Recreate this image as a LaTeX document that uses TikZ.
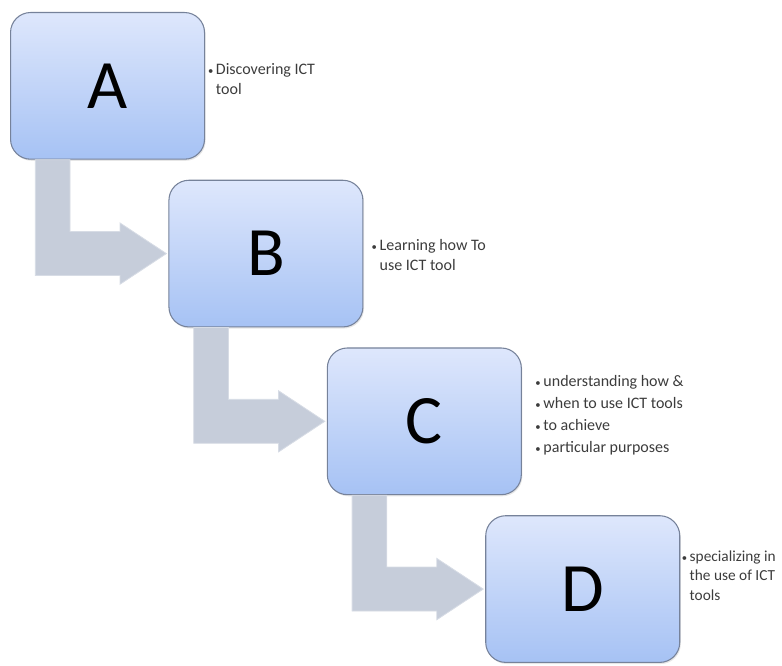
\documentclass[tikz,border=0pt]{standalone}
\usepackage{fontspec}
\setmainfont{Carlito}
\usetikzlibrary{positioning,calc,shadows}

\definecolor{boxtop}{RGB}{222,231,252}
\definecolor{boxbottom}{RGB}{166,194,244}
\definecolor{boxline}{RGB}{118,130,154}
\definecolor{arrowgray}{RGB}{198,205,218}
\definecolor{labelgray}{RGB}{60,60,60}

\newcommand{\stepbullet}{{\footnotesize\textbullet}}
% L-shaped arrow from the bottom of one stage to the left side of the next
\newcommand{\bentarrow}[2]{%
  \filldraw[step arrow] let \p1=(#1.south west), \p2=(#2.west) in
    (\x1+19pt,\y1) -- (\x1+19pt,\y2-16.5pt) -- (\x1+82.5pt,\y2-16.5pt)
    -- (\x1+82.5pt,\y2-23pt) -- (\x2-1.5pt,\y2) -- (\x1+82.5pt,\y2+23pt)
    -- (\x1+82.5pt,\y2+16.5pt) -- (\x1+45pt,\y2+16.5pt) -- (\x1+45pt,\y1) -- cycle;}

\begin{document}
\begin{tikzpicture}[node distance=15pt and -27.5pt,
  stage/.style={draw=boxline,line width=0.8pt,rounded corners=15pt,top color=boxtop,bottom color=boxbottom,minimum width=145.5pt,minimum height=110pt,inner sep=0pt,font=\fontsize{52}{56}\selectfont,drop shadow={opacity=0.2,shadow xshift=0.8pt,shadow yshift=-1.2pt}},
  step arrow/.style={fill=arrowgray,draw=arrowgray!70!white,line width=0.6pt},
  note/.style={inner sep=0pt,text=labelgray,font=\fontsize{12}{15}\selectfont}]
    \useasboundingbox (0,0) rectangle (586.5pt,-499.5pt);

    \node[stage,anchor=north west] (A) at (7.5pt,-9pt) {A};
    \node[stage] (B) [below right=of A] {B};
    \node[stage] (C) [below right=of B] {C};
    \node[stage] (D) [below right=of C] {D};

    \bentarrow{A}{B}
    \bentarrow{B}{C}
    \bentarrow{C}{D}

    \node[note,yshift=4pt] (A text) [right=2pt of A] {\begin{tabular}{@{}l@{\,}l@{}}\stepbullet & Discovering ICT\\ & tool\end{tabular}};
    \node[note,yshift=-2pt] (B text) [right=6pt of B] {\begin{tabular}{@{}l@{\,}l@{}}\stepbullet & Learning how To\\ & use ICT tool\end{tabular}};
    \node[note,yshift=5pt] (C text) [right=10pt of C] {\renewcommand{\arraystretch}{1.1}\begin{tabular}{@{}l@{\,}l@{}}\stepbullet & understanding how \&\\ \stepbullet & when to use ICT tools\\ \stepbullet & to achieve\\ \stepbullet & particular purposes\end{tabular}};
    \node[note,yshift=9pt,font=\fontsize{11.5}{14.5}\selectfont] (D text) [right=1pt of D] {\begin{tabular}{@{}l@{\,}l@{}}\stepbullet & specializing in\\ & the use of ICT\\ & tools\end{tabular}};
\end{tikzpicture}
\end{document}
